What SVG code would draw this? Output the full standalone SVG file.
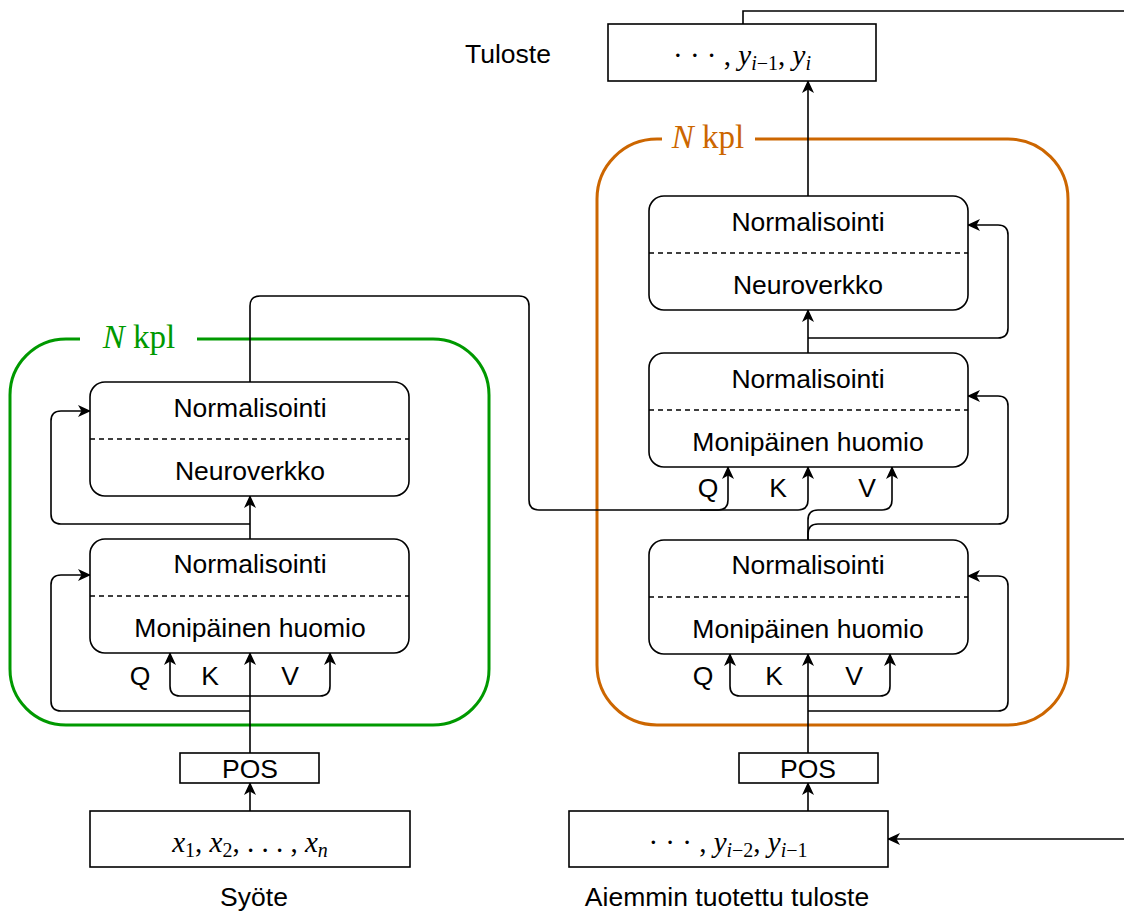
<svg xmlns="http://www.w3.org/2000/svg" width="1124" height="915" viewBox="0 0 1124 915">
<style>
.box{fill:#fff;stroke:#000;stroke-width:1.6}
.dash{stroke:#000;stroke-width:1.5;stroke-dasharray:5 4;fill:none}
.ln{fill:none;stroke:#000;stroke-width:1.6}
.arr{marker-end:url(#ah)}
.t{font-family:"Liberation Sans",Arial,sans-serif;font-size:26.5px;fill:#000;text-anchor:middle}
.m{font-family:"Liberation Serif","Times New Roman",serif;font-size:29px;fill:#000;text-anchor:middle}
.i{font-style:italic}
.s{font-size:20px}
.lbl{font-family:"Liberation Serif","Times New Roman",serif;font-size:33px;text-anchor:middle}
</style>
<defs>
<marker id="ah" viewBox="0 0 13 12" refX="12" refY="6" markerWidth="13" markerHeight="12" markerUnits="userSpaceOnUse" orient="auto">
<path d="M0,0 L13,6 L0,12 L3.5,6 Z" fill="#000"/>
</marker>
</defs>
<rect width="1124" height="915" fill="#fff"/>

<g id="encoder-frame">
<path d="M197 339 H433 A56 56 0 0 1 489 395 V669 A56 56 0 0 1 433 725 H66 A56 56 0 0 1 10 669 V395 A56 56 0 0 1 66 339 H80" fill="none" stroke="#009900" stroke-width="3"/>
<text class="lbl" x="139" y="348" fill="#009900"><tspan class="i">N</tspan> kpl</text>
</g>
<g id="decoder-frame">
<path d="M755 139 H1008 A60 60 0 0 1 1068 199 V665 A60 60 0 0 1 1008 725 H657 A60 60 0 0 1 597 665 V199 A60 60 0 0 1 657 139 H662" fill="none" stroke="#CC6600" stroke-width="3"/>
<text class="lbl" x="708" y="148" fill="#CC6600"><tspan class="i">N</tspan> kpl</text>
</g>

<g id="connectors">
<path class="ln arr" d="M250 811 V783"/>
<path class="ln arr" d="M250 753 V653"/>
<path class="ln arr" d="M250 711 H61 Q51 711 51 701 V585 Q51 575 61 575 H90"/>
<path class="ln arr" d="M250 696 H180 Q170 696 170 686 V653"/>
<path class="ln arr" d="M250 696 H320 Q330 696 330 686 V653"/>
<path class="ln arr" d="M250 539 V496"/>
<path class="ln arr" d="M250 524 H61 Q51 524 51 514 V421 Q51 411 61 411 H90"/>
<path class="ln arr" d="M250 382 V306 Q250 296 260 296 H519 Q529 296 529 306 V500 Q529 510 539 510 H718 Q728 510 728 500 V467"/>
<path class="ln arr" d="M700 510 H798 Q808 510 808 500 V467"/>
<path class="ln arr" d="M808 811 V783"/>
<path class="ln arr" d="M808 753 V654"/>
<path class="ln arr" d="M808 711 H998 Q1008 711 1008 701 V586 Q1008 576 998 576 H968"/>
<path class="ln arr" d="M808 696 H740 Q730 696 730 686 V654"/>
<path class="ln arr" d="M808 696 H880 Q890 696 890 686 V654"/>
<path class="ln arr" d="M808 540 V520 Q808 510 818 510 H882 Q892 510 892 500 V467"/>
<path class="ln arr" d="M808 540 V534 Q808 524 818 524 H998 Q1008 524 1008 514 V406 Q1008 396 998 396 H968"/>
<path class="ln arr" d="M808 353 V310"/>
<path class="ln arr" d="M808 338 H998 Q1008 338 1008 328 V235 Q1008 225 998 225 H968"/>
<path class="ln arr" d="M808 196 V81"/>
<path class="ln" d="M743 24 V11 H1124"/>
<path class="ln arr" d="M1124 839 H888"/>
</g>

<g id="enc-ffn">
<rect class="box" x="90" y="382" width="319" height="114" rx="15"/>
<line class="dash" x1="90" y1="439" x2="409" y2="439"/>
<text class="t" x="250" y="417">Normalisointi</text>
<text class="t" x="250" y="480">Neuroverkko</text>
</g>
<g id="enc-att">
<rect class="box" x="90" y="539" width="319" height="114" rx="15"/>
<line class="dash" x1="90" y1="596" x2="409" y2="596"/>
<text class="t" x="250" y="573">Normalisointi</text>
<text class="t" x="250" y="637">Monipäinen huomio</text>
<text class="t" x="140" y="685">Q</text>
<text class="t" x="210" y="685">K</text>
<text class="t" x="290" y="685">V</text>
</g>
<g id="enc-pos">
<rect class="box" x="180" y="753" width="139" height="30"/>
<text class="t" x="250" y="778">POS</text>
</g>
<g id="enc-input">
<rect class="box" x="90" y="811" width="320" height="56"/>
<text class="m" x="250" y="852"><tspan class="i">x</tspan><tspan class="s" dy="5">1</tspan><tspan dy="-5">, </tspan><tspan class="i">x</tspan><tspan class="s" dy="5">2</tspan><tspan dy="-5">, . . . , </tspan><tspan class="i">x</tspan><tspan class="s i" dy="5">n</tspan></text>
<text class="t" x="254" y="906">Syöte</text>
</g>

<g id="dec-ffn">
<rect class="box" x="649" y="196" width="319" height="114" rx="15"/>
<line class="dash" x1="649" y1="253" x2="968" y2="253"/>
<text class="t" x="808" y="231">Normalisointi</text>
<text class="t" x="808" y="294">Neuroverkko</text>
</g>
<g id="dec-cross-att">
<rect class="box" x="649" y="353" width="319" height="114" rx="15"/>
<line class="dash" x1="649" y1="410" x2="968" y2="410"/>
<text class="t" x="808" y="388">Normalisointi</text>
<text class="t" x="808" y="451">Monipäinen huomio</text>
<text class="t" x="708" y="497">Q</text>
<text class="t" x="778" y="497">K</text>
<text class="t" x="867" y="497">V</text>
</g>
<g id="dec-self-att">
<rect class="box" x="649" y="540" width="319" height="114" rx="15"/>
<line class="dash" x1="649" y1="597" x2="968" y2="597"/>
<text class="t" x="808" y="574">Normalisointi</text>
<text class="t" x="808" y="638">Monipäinen huomio</text>
<text class="t" x="703" y="685">Q</text>
<text class="t" x="774" y="685">K</text>
<text class="t" x="854" y="685">V</text>
</g>
<g id="dec-pos">
<rect class="box" x="739" y="753" width="139" height="30"/>
<text class="t" x="808" y="778">POS</text>
</g>
<g id="dec-input">
<rect class="box" x="569" y="811" width="319" height="56"/>
<text class="m" x="728" y="852">· · · , <tspan class="i">y</tspan><tspan class="s" dy="5"><tspan class="i">i</tspan>−2</tspan><tspan dy="-5">, </tspan><tspan class="i">y</tspan><tspan class="s" dy="5"><tspan class="i">i</tspan>−1</tspan></text>
<text class="t" x="727" y="906">Aiemmin tuotettu tuloste</text>
</g>
<g id="output">
<rect class="box" x="608" y="24" width="268" height="57"/>
<text class="m" x="742" y="65">· · · , <tspan class="i">y</tspan><tspan class="s" dy="5"><tspan class="i">i</tspan>−1</tspan><tspan dy="-5">, </tspan><tspan class="i">y</tspan><tspan class="s i" dy="5">i</tspan></text>
<text class="t" x="508" y="63">Tuloste</text>
</g>
</svg>
